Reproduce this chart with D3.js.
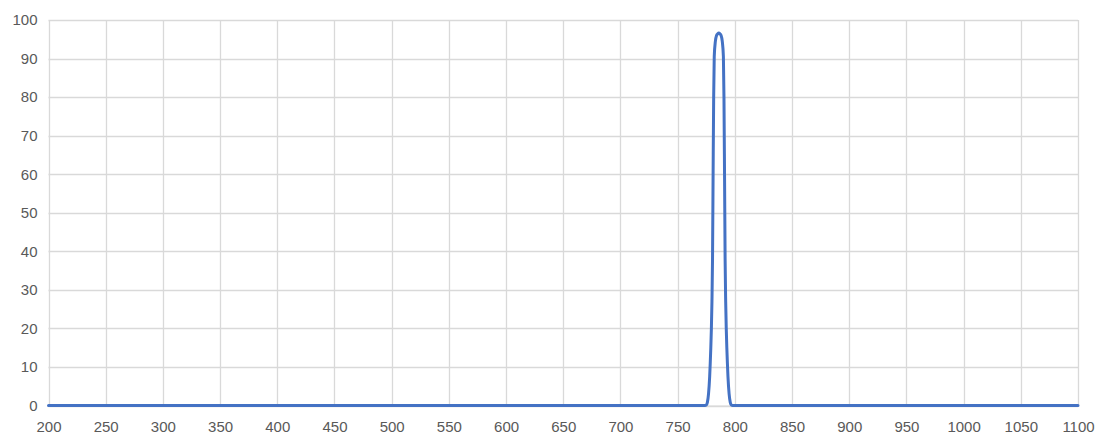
<!DOCTYPE html>
<html>
<head>
<meta charset="utf-8">
<script src="https://cdn.jsdelivr.net/npm/d3@7"></script>
<style>
  html, body { margin: 0; padding: 0; background: #fff; }
  svg text { font-family: "Liberation Sans", Arial, sans-serif; font-size: 15px; fill: #595959; }
</style>
</head>
<body>
<div id="chart"></div>
<script>
// wavelength (nm) and transmission (%)
const wavelengths = [200, 300, 400, 500, 600, 700, 760, 772, 774, 775, 776, 777, 778, 778.5, 779, 779.5,
  780, 780.5, 781, 781.5, 782, 783, 784, 785, 786, 787, 788, 789, 790, 790.5, 791, 791.5, 792,
  792.5, 793, 793.5, 794, 795, 796, 797, 798, 800, 850, 900, 1000, 1100];
const transmission = [0, 0, 0, 0, 0, 0, 0, 0, 0, 0.1, 0.8, 3, 7.5, 11, 15, 20,
  27, 38, 60, 80, 90.5, 94.5, 96, 96.4, 96.6, 96.4, 96, 94.5, 90.5, 80, 60, 38, 27,
  20, 15, 11, 7.5, 3, 0.8, 0.1, 0, 0, 0, 0, 0, 0];
const xTicks = d3.range(200, 1101, 50);
const yTicks = d3.range(0, 101, 10);

const width = 1103, height = 448;
const m = { top: 20, right: 25, bottom: 42.5, left: 48.5 };

const svg = d3.select('#chart').append('svg')
  .attr('width', width).attr('height', height);

const x = d3.scaleLinear().domain([200, 1100]).range([m.left, width - m.right]);
const y = d3.scaleLinear().domain([0, 100]).range([height - m.bottom, m.top]);

// grid
svg.append('g').selectAll('line').data(yTicks).join('line')
  .attr('x1', x(200)).attr('x2', x(1100))
  .attr('y1', d => Math.round(y(d)) + 0.5).attr('y2', d => Math.round(y(d)) + 0.5)
  .attr('stroke', '#d9d9d9').attr('stroke-width', 1.3);
svg.append('g').selectAll('line').data(xTicks).join('line')
  .attr('x1', d => Math.round(x(d)) + 0.5).attr('x2', d => Math.round(x(d)) + 0.5)
  .attr('y1', y(0)).attr('y2', y(100))
  .attr('stroke', '#d9d9d9').attr('stroke-width', 1.3);

// axes labels
const xAxis = d3.axisBottom(x).tickValues(xTicks).tickFormat(d3.format('d')).tickSize(0).tickPadding(16);
const gx = svg.append('g').attr('transform', `translate(0,${y(0)})`).call(xAxis);
gx.select('.domain').attr('stroke', '#d9d9d9');
gx.selectAll('.tick text').attr('fill', '#595959').attr('font-size', 15).attr('font-family', null);

const yAxis = d3.axisLeft(y).tickValues(yTicks).tickSize(0).tickPadding(11);
const gy = svg.append('g').attr('transform', `translate(${m.left},0)`).call(yAxis);
gy.select('.domain').remove();
gy.selectAll('.tick text').attr('fill', '#595959').attr('font-size', 15).attr('font-family', null);

// series
const data = wavelengths.map((w, i) => [w, transmission[i]]);
const line = d3.line().x(d => x(d[0])).y(d => y(d[1])).curve(d3.curveMonotoneX);
svg.append('path').datum(data).attr('d', line)
  .attr('fill', 'none').attr('stroke', '#4472c4').attr('stroke-width', 3)
  .attr('stroke-linejoin', 'round').attr('stroke-linecap', 'round');
</script>
</body>
</html>
